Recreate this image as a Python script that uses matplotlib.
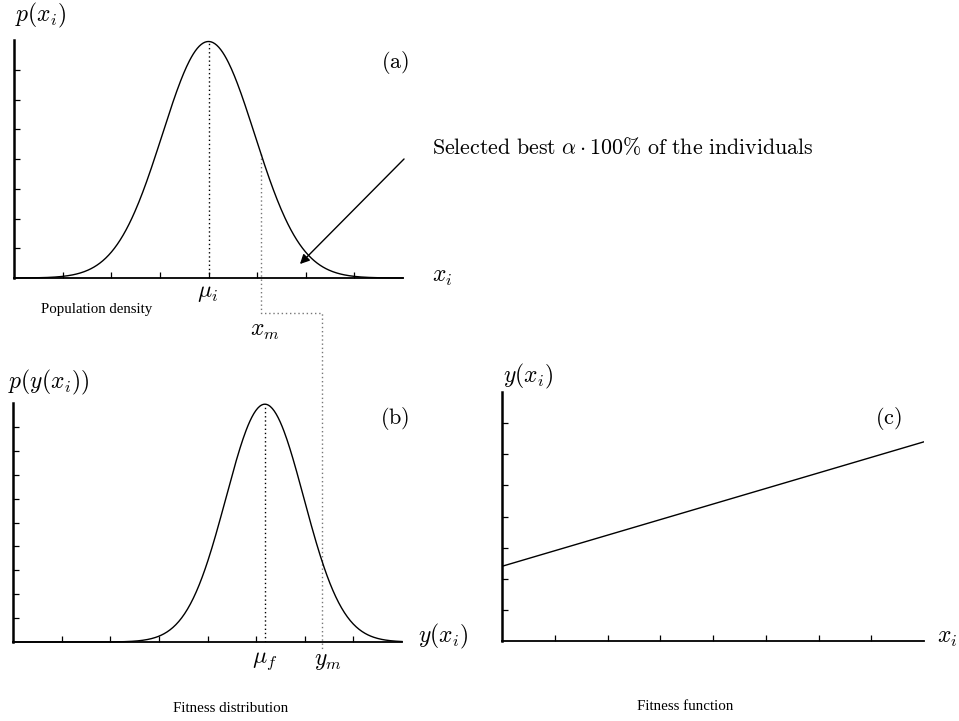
import numpy as np
import matplotlib
matplotlib.use("Agg")
import matplotlib.pyplot as plt

plt.rcParams['mathtext.fontset'] = 'cm'
plt.rcParams['font.family'] = ['Liberation Serif', 'DejaVu Serif']

# ---- data ----
# panel (a): population density (Gaussian)
mu_i = 4.0
sigma_i = 0.95
peak_a = 7.95
x_m = 5.08
# panel (b): fitness distribution (Gaussian)
mu_f = 5.18
sigma_f = 0.8
peak_b = 9.95
y_m = 6.36
# panel (c): linear fitness function
fit_x = [0.0, 8.0]
fit_y = [2.4, 6.4]
ticks_a_x = [1, 2, 3, 4, 5, 6, 7]
ticks_a_y = [1, 2, 3, 4, 5, 6, 7]
ticks_b_x = [1, 2, 3, 4, 5, 6, 7]
ticks_b_y = [1, 2, 3, 4, 5, 6, 7, 8, 9]
ticks_c_x = [1, 2, 3, 4, 5, 6, 7]
ticks_c_y = [1, 2, 3, 4, 5, 6, 7]

W, H = 959, 721
fig = plt.figure(figsize=(W / 100, H / 100), dpi=100)


def px_axes(l, t, r, b):
    return fig.add_axes([l / W, 1 - b / H, (r - l) / W, (b - t) / H])


def style(ax, xt, yt):
    for s in ['top', 'right']:
        ax.spines[s].set_visible(False)
    ax.spines['left'].set_linewidth(1.8)
    ax.spines['bottom'].set_linewidth(1.3)
    ax.set_xticks(xt)
    ax.set_yticks(yt)
    ax.tick_params(direction='in', length=4, width=0.9, labelbottom=False, labelleft=False)
    ax.patch.set_alpha(0)


# overlay for connecting lines and free text
ov = fig.add_axes([0, 0, 1, 1])
ov.set_xlim(0, W)
ov.set_ylim(H, 0)
ov.axis('off')

# ---- panel (a) ----
axa = px_axes(14, 40, 403, 278)
axa.set_xlim(0, 8)
axa.set_ylim(0, 8)
xa = np.linspace(0, 8, 400)
axa.plot(xa, peak_a * np.exp(-(xa - mu_i) ** 2 / (2 * sigma_i ** 2)), color='black', lw=1.0, clip_on=False)
axa.plot([mu_i, mu_i], [0, peak_a], color='black', lw=1.0, ls=(0, (1, 2)))
style(axa, ticks_a_x, ticks_a_y)

# ---- panel (b) ----
axb = px_axes(13, 403, 402, 642)
axb.set_xlim(0, 8)
axb.set_ylim(0, 10)
xb = np.linspace(0, 8, 400)
axb.plot(xb, peak_b * np.exp(-(xb - mu_f) ** 2 / (2 * sigma_f ** 2)), color='black', lw=1.0, clip_on=False)
axb.plot([mu_f, mu_f], [0, peak_b], color='black', lw=1.0, ls=(0, (1, 2)))
style(axb, ticks_b_x, ticks_b_y)

# ---- panel (c) ----
axc = px_axes(502, 392, 924, 641)
axc.set_xlim(0, 8)
axc.set_ylim(0, 8)
axc.plot(fit_x, fit_y, color='black', lw=1.0)
style(axc, ticks_c_x, ticks_c_y)

# ---- connecting gray dotted line x_m -> y_m ----
fig.canvas.draw()
inv = ov.transData.inverted()
ya_xm = peak_a * np.exp(-(x_m - mu_i) ** 2 / (2 * sigma_i ** 2))
p1 = inv.transform(axa.transData.transform((x_m, ya_xm)))
p2 = inv.transform(axa.transData.transform((x_m, -1.17)))
p3 = inv.transform(axb.transData.transform((y_m, -0.35)))
jog = (p3[0], p2[1])
ov.plot([p1[0], p2[0], jog[0], p3[0]], [p1[1], p2[1], jog[1], p3[1]],
        color='#777777', lw=1.0, ls=(0, (1, 2)))

# ---- texts ----
ov.text(15, 15, r'$p(x_i)$', fontsize=17, ha='left', va='center')
ov.text(432, 278, r'$x_i$', fontsize=17, ha='left', va='center')
ov.text(395, 62, r'$\mathrm{(a)}$', fontsize=16, ha='center', va='center')
ov.text(208, 293, r'$\mu_i$', fontsize=17, ha='center', va='center')
ov.text(265, 331, r'$x_m$', fontsize=17, ha='center', va='center')
ov.text(41, 310, 'Population density', fontsize=10.7, ha='left', va='center')
ov.text(432, 148, r'$\mathrm{Selected\ best\ }\alpha\cdot 100\%\mathrm{\ of\ the\ individuals}$',
        fontsize=15.8, ha='left', va='center')
ov.annotate('', xy=(298, 266), xytext=(406, 157),
            arrowprops=dict(arrowstyle='-|>', color='black', lw=1.0, mutation_scale=14))

ov.text(8, 382, r'$p(y(x_i))$', fontsize=17, ha='left', va='center')
ov.text(418, 636, r'$y(x_i)$', fontsize=17, ha='left', va='center')
ov.text(395, 418, r'$\mathrm{(b)}$', fontsize=16, ha='center', va='center')
ov.text(265, 661, r'$\mu_f$', fontsize=17, ha='center', va='center')
ov.text(328, 661, r'$y_m$', fontsize=17, ha='center', va='center')
ov.text(231, 708, 'Fitness distribution', fontsize=10.8, ha='center', va='center')

ov.text(503, 376, r'$y(x_i)$', fontsize=17, ha='left', va='center')
ov.text(937, 639, r'$x_i$', fontsize=17, ha='left', va='center')
ov.text(888, 419, r'$\mathrm{(c)}$', fontsize=16, ha='center', va='center')
ov.text(685, 707, 'Fitness function', fontsize=10.8, ha='center', va='center')

fig.savefig('out.png', dpi=100)
